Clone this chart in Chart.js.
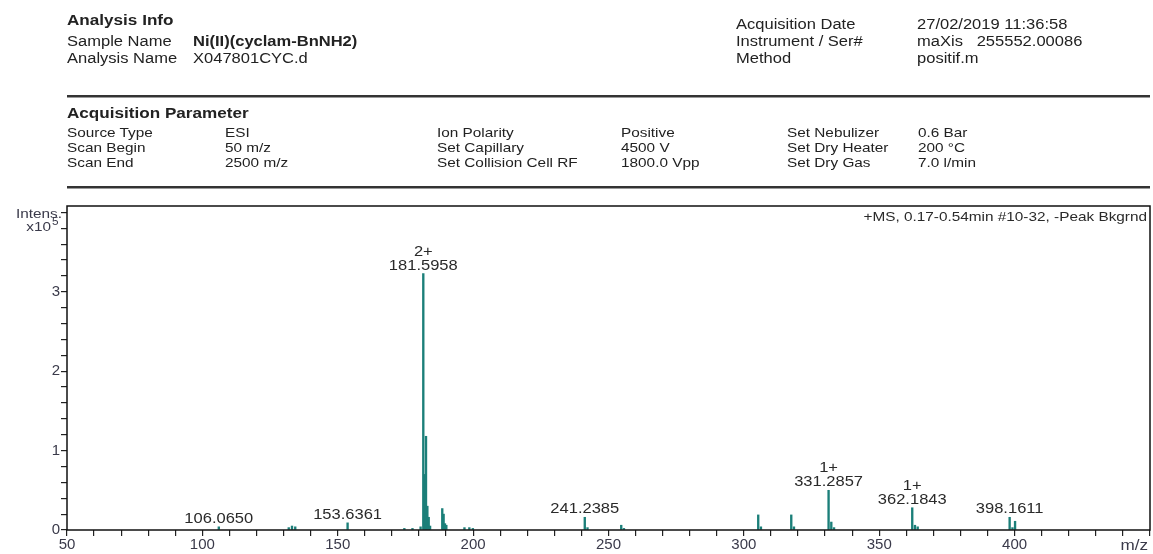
<!DOCTYPE html>
<html>
<head>
<meta charset="utf-8">
<script src="https://cdn.jsdelivr.net/npm/chart.js@4.4.1/dist/chart.umd.min.js"></script>
<style>
  html, body { margin: 0; padding: 0; background: #fff; }
  #wrap { position: relative; width: 1153px; height: 554px; overflow: hidden;
          font-family: "Liberation Sans", Arial, sans-serif; color: #222; }
  #c { position: absolute; left: 0; top: 0; }
  .t { position: absolute; white-space: pre; line-height: 1;
       transform: scaleX(1.18); transform-origin: 0 50%; }
  .b { font-weight: bold; }
  .rule { position: absolute; left: 67px; width: 1083px; height: 2px;
          background: #333; border-bottom: 1px solid #9a9a9a; }
</style>
</head>
<body>
<div id="wrap">
  <canvas id="c" width="1153" height="554"></canvas>
  <div id="hdr"></div>
</div>
<script>
// ---- report header ----
const infoTitle = "Analysis Info";
const infoLeft = [
  ["Sample Name", "Ni(II)(cyclam-BnNH2)", true],
  ["Analysis Name", "X047801CYC.d", false]
];
const infoRight = [
  ["Acquisition Date", "27/02/2019 11:36:58"],
  ["Instrument / Ser#", "maXis   255552.00086"],
  ["Method", "positif.m"]
];
const paramTitle = "Acquisition Parameter";
const paramRows = [
  ["Source Type", "ESI",      "Ion Polarity",          "Positive",   "Set Nebulizer", "0.6 Bar"],
  ["Scan Begin",  "50 m/z",   "Set Capillary",         "4500 V",     "Set Dry Heater", "200 \u00B0C"],
  ["Scan End",    "2500 m/z", "Set Collision Cell RF", "1800.0 Vpp", "Set Dry Gas",    "7.0 l/min"]
];
const spectrumTitle = "+MS, 0.17-0.54min #10-32, -Peak Bkgrnd";

// ---- spectrum (m/z, intensity in units of 10^5) ----
const peakMz = [
  106.065, 131.9, 133.1, 134.3, 153.6361, 174.6, 177.6, 180.6,
  181.5958, 182.097, 182.595, 183.096, 183.594, 184.1,
  188.6, 189.1, 189.6, 190.1, 196.8, 198.6, 199.9,
  241.2385, 242.24, 254.7, 255.7,
  305.3, 306.3, 317.5, 318.5,
  331.2857, 332.29, 333.3,
  362.1843, 363.19, 364.2,
  398.1611, 399.2, 400.16
];
const peakIntensity = [
  0.04, 0.03, 0.05, 0.04, 0.09, 0.02, 0.02, 0.04,
  3.23, 0.70, 1.18, 0.30, 0.16, 0.05,
  0.27, 0.20, 0.08, 0.06, 0.03, 0.03, 0.02,
  0.16, 0.03, 0.06, 0.02,
  0.19, 0.04, 0.19, 0.04,
  0.50, 0.10, 0.03,
  0.28, 0.06, 0.04,
  0.16, 0.03, 0.11
];
// annotated peaks: m/z value and charge state
const labelMz     = [106.065, 153.6361, 181.5958, 241.2385, 331.2857, 362.1843, 398.1611];
const labelText   = ["106.0650", "153.6361", "181.5958", "241.2385", "331.2857", "362.1843", "398.1611"];
const labelCharge = ["", "", "2+", "", "1+", "1+", ""];

const xMin = 50, xMax = 450, yMax = 4.08;
const yLabelled = [0, 1, 2, 3];

// ---- build header ----
const hdr = document.getElementById('hdr');
function addText(txt, left, top, size, bold) {
  const d = document.createElement('div');
  d.className = 't' + (bold ? ' b' : '');
  d.style.left = left + 'px';
  d.style.top = top + 'px';
  d.style.fontSize = size + 'px';
  d.textContent = txt;
  hdr.appendChild(d);
}
function addRule(top) {
  const d = document.createElement('div');
  d.className = 'rule';
  d.style.top = top + 'px';
  hdr.appendChild(d);
}
addText(infoTitle, 67, 13, 14.5, true);
infoLeft.forEach((r, i) => {
  addText(r[0], 67, 34 + i * 17, 14, false);
  addText(r[1], 193, 34 + i * 17, 14, r[2]);
});
infoRight.forEach((r, i) => {
  addText(r[0], 736, 17 + i * 17, 14, false);
  addText(r[1], 917, 17 + i * 17, 14, false);
});
addRule(95);
addText(paramTitle, 67, 106, 14.5, true);
const paramCols = [67, 225, 437, 621, 787, 918];
paramRows.forEach((r, i) => {
  r.forEach((txt, j) => addText(txt, paramCols[j], 126 + i * 15, 13, false));
});
addRule(186);

// ---- canvas helpers ----
function wideText(ctx, txt, x, y, size, align, color, base) {
  ctx.save();
  ctx.font = size + 'px "Liberation Sans", Arial, sans-serif';
  ctx.fillStyle = color || '#2a2a2a';
  ctx.textAlign = align || 'center';
  ctx.textBaseline = base || 'alphabetic';
  ctx.translate(x, y);
  ctx.scale(1.18, 1);
  ctx.fillText(txt, 0, 0);
  ctx.restore();
}

const framePlugin = {
  id: 'frame',
  afterDatasetsDraw(chart) {
    const { ctx, chartArea: a } = chart;
    ctx.save();
    ctx.strokeStyle = '#111';
    ctx.lineWidth = 1.5;
    ctx.strokeRect(a.left, a.top, a.right - a.left, a.bottom - a.top);
    ctx.restore();
  }
};

const peakLabelPlugin = {
  id: 'peakLabels',
  afterDatasetsDraw(chart) {
    const { ctx, scales: { x, y } } = chart;
    labelMz.forEach((m, i) => {
      const k = peakMz.indexOf(m);
      const px = x.getPixelForValue(m);
      const py = y.getPixelForValue(peakIntensity[k]);
      wideText(ctx, labelText[i], px, py - 4, 14);
      if (labelCharge[i]) wideText(ctx, labelCharge[i], px, py - 18, 14);
    });
  }
};

const captionPlugin = {
  id: 'captions',
  afterDraw(chart) {
    const { ctx, chartArea: a } = chart;
    wideText(ctx, 'Intens.', 62, 218, 13, 'right', '#3a3a4a');
    wideText(ctx, 'x10', 51, 231, 13, 'right', '#3a3a4a');
    wideText(ctx, '5', 52, 225, 10, 'left', '#3a3a4a');
    wideText(ctx, spectrumTitle, a.right - 3, 221, 13, 'right', '#2a2a2a');
    wideText(ctx, 'm/z', a.right - 2, 550, 14.5, 'right', '#3a3a4a');
  }
};

new Chart(document.getElementById('c'), {
  type: 'bar',
  data: {
    datasets: [{
      data: peakMz.map((m, i) => ({ x: m, y: peakIntensity[i] })),
      backgroundColor: '#1b7f79',
      borderWidth: 0,
      barThickness: 1.7
    }]
  },
  options: {
    responsive: false,
    animation: false,
    devicePixelRatio: 1,
    layout: { padding: { top: 206, right: 3, left: 0, bottom: 0 } },
    plugins: { legend: { display: false }, tooltip: { enabled: false } },
    scales: {
      x: {
        type: 'linear',
        min: xMin, max: xMax,
        offset: false,
        grid: { display: true, offset: false, drawOnChartArea: false, drawTicks: true,
                tickLength: 6, color: '#222', lineWidth: 1.2 },
        border: { display: false },
        ticks: {
          stepSize: 10, maxTicksLimit: 100, autoSkip: false, maxRotation: 0, includeBounds: false,
          padding: 0, color: '#3a3a4a',
          font: { family: '"Liberation Sans", Arial, sans-serif', size: 15 },
          callback: v => (v % 50 === 0 && v < xMax) ? String(v) : ''
        },
        afterFit: s => { s.height = 24; }
      },
      y: {
        min: 0, max: yMax,
        grid: { display: true, drawOnChartArea: false, drawTicks: true,
                tickLength: 6, color: '#222', lineWidth: 1.2 },
        border: { display: false },
        ticks: {
          stepSize: 0.2, maxTicksLimit: 100, autoSkip: false, includeBounds: false,
          padding: 1, color: '#3a3a4a',
          font: { family: '"Liberation Sans", Arial, sans-serif', size: 15 },
          callback: v => {
            const r = Math.round(v);
            return (Math.abs(v - r) < 1e-6 && yLabelled.includes(r)) ? String(r) : '';
          }
        },
        afterFit: s => { s.width = 67; }
      }
    }
  },
  plugins: [framePlugin, peakLabelPlugin, captionPlugin]
});
</script>
</body>
</html>
